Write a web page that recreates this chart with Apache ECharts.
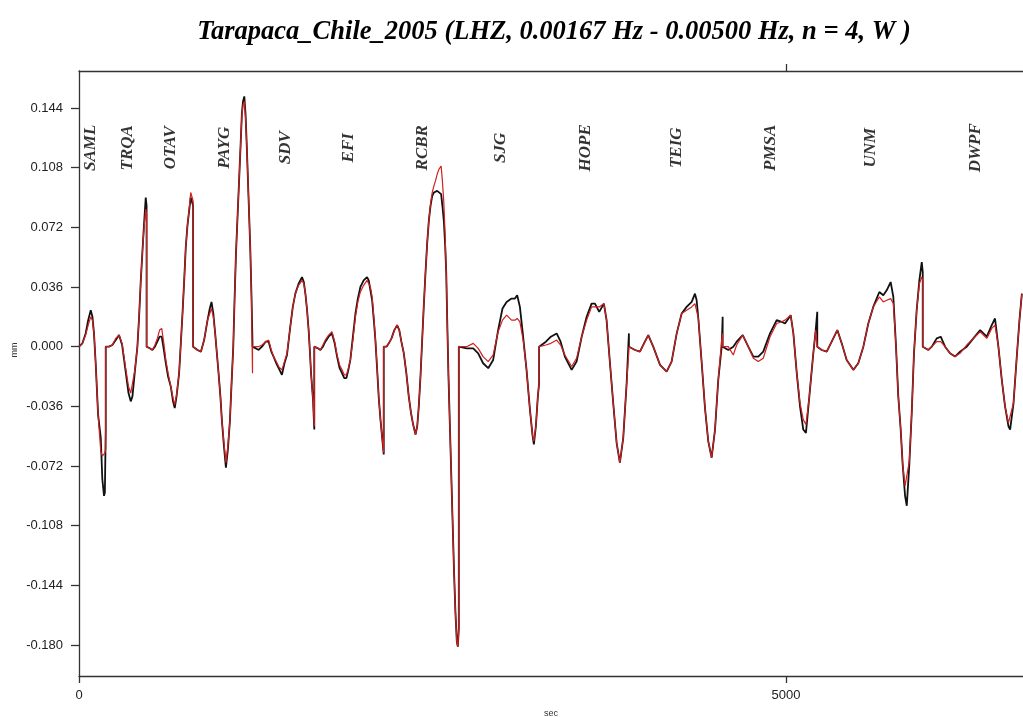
<!DOCTYPE html>
<html><head><meta charset="utf-8">
<script src="https://cdn.jsdelivr.net/npm/echarts@6/dist/echarts.min.js"></script>
<style>html,body{margin:0;padding:0;background:#fff}#c{width:1023px;height:717px}</style>
</head><body><div id="c"></div>
<script>
// Station names and label positions (seconds along concatenated trace, mm level)
const stationNames = ['SAML','TRQA','OTAV','PAYG','SDV','EFI','RCBR','SJG','HOPE','TEIG','PMSA','UNM','DWPF'];
const stationLabelTime = [80, 345, 650, 1032, 1460, 1908, 2432, 2983, 3585, 4229, 4894, 5601, 6344];
const stationLabelLevel = 0.12;
const xTicks = [0, 5000];
const yTicks = [-0.180, -0.144, -0.108, -0.072, -0.036, 0, 0.036, 0.072, 0.108, 0.144];

// Each station: [time (s), observed (black, mm), synthetic (red, mm)]
const SAML = [[0,0,0],[24,0.002,0.002],[47,0.008,0.007],[65,0.016,0.013],[83,0.022,0.018],[95,0.018,0.016],[106,0.008,0.008],[118,-0.010,-0.010],[135,-0.041,-0.041],[154,-0.055,-0.063],[165,-0.080,-0.066],[177,-0.090,-0.065],[183,-0.088,-0.064],[189,-0.050,-0.062]];
const TRQA = [[189,0,0],[212,0,0],[236,0.001,0.001],[260,0.004,0.005],[283,0.007,0.007],[305,0.001,0.002],[330,-0.015,-0.013],[350,-0.028,-0.024],[366,-0.033,-0.028],[378,-0.030,-0.028],[395,-0.015,-0.014],[413,0,0],[425,0.018,0.018],[437,0.040,0.040],[449,0.058,0.058],[460,0.074,0.072],[472,0.090,0.083],[478,0.085,0.080]];
const OTAV = [[478,0,0],[500,-0.001,-0.001],[519,-0.002,-0.002],[537,0,0.001],[554,0.003,0.005],[570,0.006,0.010],[585,0.006,0.011],[600,-0.002,0.002],[614,-0.010,-0.008],[630,-0.018,-0.016],[649,-0.024,-0.024],[665,-0.033,-0.031],[677,-0.037,-0.035],[690,-0.030,-0.029],[708,-0.016,-0.016],[720,0.002,0.002],[732,0.020,0.020],[744,0.040,0.040],[755,0.060,0.060],[767,0.073,0.073],[779,0.082,0.083],[790,0.090,0.093],[797,0.089,0.092],[807,0.085,0.088]];
const PAYG = [[807,0,0],[838,-0.002,-0.002],[862,-0.003,-0.003],[885,0.004,0.004],[909,0.016,0.016],[925,0.023,0.020],[937,0.027,0.023],[950,0.020,0.018],[963,0.008,0.008],[975,-0.004,-0.004],[987,-0.016,-0.016],[1000,-0.030,-0.030],[1011,-0.045,-0.045],[1025,-0.060,-0.058],[1039,-0.073,-0.070],[1053,-0.062,-0.060],[1067,-0.045,-0.045],[1079,-0.022,-0.022],[1091,0,0],[1100,0.028,0.028],[1110,0.056,0.056],[1122,0.080,0.080],[1133,0.102,0.102],[1143,0.122,0.122],[1152,0.141,0.140],[1160,0.148,0.146],[1169,0.151,0.148],[1178,0.140,0.138],[1187,0.120,0.120],[1199,0.090,0.090],[1211,0.060,0.060],[1220,0.030,0.030],[1227,0.002,-0.016]];
const SDV = [[1227,0,0],[1250,-0.001,0],[1270,-0.002,0],[1294,0,0.001],[1320,0.003,0.003],[1341,0.003,0.004],[1360,-0.003,-0.002],[1376,-0.006,-0.006],[1395,-0.010,-0.009],[1412,-0.013,-0.012],[1435,-0.017,-0.014],[1453,-0.010,-0.009],[1471,-0.005,-0.004],[1494,0.012,0.012],[1512,0.024,0.024],[1530,0.032,0.032],[1553,0.038,0.037],[1577,0.042,0.040],[1590,0.039,0.038],[1601,0.032,0.032],[1613,0.022,0.022],[1624,0.010,0.010],[1633,-0.003,-0.003],[1641,-0.016,-0.016],[1655,-0.032,-0.032],[1664,-0.050,-0.048]];
const EFI = [[1664,0,0],[1690,-0.001,-0.001],[1707,-0.002,-0.002],[1725,0,0.001],[1742,0.003,0.004],[1765,0.006,0.007],[1789,0.008,0.009],[1808,0.002,0.003],[1825,-0.006,-0.005],[1843,-0.013,-0.011],[1860,-0.016,-0.014],[1876,-0.019,-0.017],[1891,-0.019,-0.017],[1905,-0.014,-0.013],[1919,-0.008,-0.008],[1937,0.006,0.004],[1955,0.020,0.018],[1972,0.029,0.027],[1990,0.036,0.033],[2013,0.040,0.037],[2037,0.042,0.040],[2049,0.040,0.040],[2061,0.034,0.036],[2073,0.028,0.030],[2085,0.016,0.018],[2096,0.004,0.005],[2108,-0.013,-0.012],[2120,-0.031,-0.031],[2132,-0.044,-0.044],[2144,-0.055,-0.055],[2155,-0.065,-0.064]];
const RCBR = [[2155,0,0],[2175,0,0],[2191,0.002,0.002],[2210,0.005,0.005],[2230,0.010,0.010],[2250,0.013,0.013],[2265,0.010,0.010],[2280,0.003,0.003],[2297,-0.004,-0.004],[2315,-0.016,-0.016],[2332,-0.030,-0.030],[2348,-0.040,-0.040],[2363,-0.047,-0.047],[2380,-0.053,-0.053],[2392,-0.048,-0.048],[2403,-0.036,-0.036],[2415,-0.018,-0.018],[2427,0.004,0.004],[2438,0.024,0.024],[2450,0.044,0.044],[2462,0.062,0.062],[2474,0.076,0.076],[2486,0.085,0.086],[2498,0.091,0.093],[2510,0.093,0.097],[2521,0.094,0.100],[2533,0.094,0.104],[2545,0.094,0.107],[2561,0.092,0.109],[2570,0.085,0.100],[2580,0.076,0.087],[2589,0.062,0.068],[2597,0.045,0.045],[2605,0.012,0.012],[2613,-0.018,-0.018],[2622,-0.045,-0.045],[2632,-0.075,-0.075],[2642,-0.105,-0.105],[2652,-0.135,-0.135],[2662,-0.160,-0.160],[2672,-0.178,-0.178],[2679,-0.181,-0.181],[2686,-0.170,-0.170]];
const SJG = [[2686,0,0],[2741,-0.001,0],[2788,-0.001,0.002],[2823,-0.004,-0.001],[2858,-0.010,-0.006],[2894,-0.013,-0.009],[2929,-0.008,-0.005],[2964,0.010,0.009],[2995,0.023,0.016],[3024,0.027,0.019],[3059,0.029,0.016],[3083,0.029,0.016],[3099,0.031,0.017],[3118,0.024,0.015],[3141,0.006,0.004],[3165,-0.014,-0.014],[3189,-0.038,-0.038],[3208,-0.054,-0.054],[3217,-0.059,-0.057],[3231,-0.048,-0.048],[3245,-0.030,-0.030],[3254,-0.022,-0.022]];
const HOPE = [[3254,0,0],[3302,0.003,0.001],[3337,0.006,0.002],[3378,0.008,0.004],[3406,0.003,0.001],[3436,-0.006,-0.005],[3484,-0.014,-0.012],[3519,-0.009,-0.007],[3555,0.006,0.006],[3590,0.018,0.016],[3625,0.026,0.024],[3649,0.026,0.024],[3679,0.021,0.024],[3712,0.026,0.026],[3731,0.016,0.016],[3755,-0.010,-0.010],[3778,-0.034,-0.034],[3802,-0.058,-0.058],[3825,-0.070,-0.070],[3849,-0.055,-0.055],[3873,-0.022,-0.022],[3889,0.008,-0.002]];
const TEIG = [[3889,0,0],[3910,-0.001,-0.001],[3932,-0.002,-0.002],[3967,-0.003,-0.003],[4002,0.003,0.003],[4026,0.007,0.007],[4061,0,0],[4109,-0.011,-0.011],[4156,-0.015,-0.015],[4191,-0.009,-0.009],[4227,0.008,0.008],[4262,0.020,0.020],[4297,0.024,0.022],[4333,0.027,0.024],[4356,0.032,0.026],[4368,0.028,0.025],[4380,0.017,0.017],[4404,-0.010,-0.010],[4427,-0.037,-0.037],[4450,-0.057,-0.057],[4474,-0.067,-0.067],[4498,-0.050,-0.050],[4521,-0.020,-0.020],[4545,0,0.004],[4552,0.018,0.008]];
const PMSA = [[4552,0,0],[4592,-0.002,0],[4627,0,-0.005],[4651,0.003,0.001],[4694,0.007,0.007],[4733,0,0],[4769,-0.006,-0.007],[4804,-0.006,-0.009],[4839,-0.003,-0.007],[4887,0.008,0.006],[4934,0.016,0.014],[4969,0.015,0.015],[4993,0.014,0.016],[5033,0.019,0.019],[5052,0.008,0.008],[5076,-0.016,-0.016],[5099,-0.036,-0.034],[5122,-0.050,-0.044],[5141,-0.052,-0.047],[5165,-0.030,-0.030],[5193,-0.004,-0.004],[5210,0.010,0.010],[5221,0.021,0.010]];
const UNM = [[5221,0,0],[5253,-0.002,-0.002],[5288,-0.003,-0.003],[5323,0.003,0.003],[5363,0.010,0.010],[5394,0.002,0.002],[5429,-0.008,-0.008],[5476,-0.014,-0.014],[5511,-0.010,-0.010],[5547,0,0],[5582,0.014,0.014],[5617,0.024,0.024],[5660,0.033,0.030],[5688,0.031,0.027],[5712,0.034,0.028],[5740,0.039,0.029],[5759,0.030,0.026],[5778,0,0],[5794,-0.030,-0.030],[5811,-0.050,-0.050],[5825,-0.071,-0.071],[5842,-0.090,-0.084],[5854,-0.096,-0.084],[5872,-0.071,-0.069],[5889,-0.040,-0.040],[5905,-0.004,-0.004],[5924,0.022,0.022],[5943,0.040,0.038],[5960,0.051,0.042],[5967,0.045,0.040]];
const DWPF = [[5967,0,0],[6007,-0.002,-0.002],[6031,0,0],[6066,0.005,0.003],[6094,0.006,0.003],[6125,0,0],[6160,-0.004,-0.004],[6195,-0.006,-0.006],[6231,-0.003,-0.004],[6278,0,0.001],[6325,0.005,0.005],[6373,0.010,0.009],[6420,0.006,0.005],[6455,0.013,0.011],[6478,0.017,0.013],[6502,0,0],[6526,-0.020,-0.020],[6549,-0.036,-0.036],[6573,-0.048,-0.046],[6585,-0.050,-0.047],[6609,-0.034,-0.034],[6632,-0.006,-0.006],[6651,0.016,0.016],[6668,0.032,0.032]];

const segments = [SAML, TRQA, OTAV, PAYG, SDV, EFI, RCBR, SJG, HOPE, TEIG, PMSA, UNM, DWPF];
const obsLine = [], synLine = [];
segments.forEach(seg => seg.forEach(p => { obsLine.push([p[0], p[1]]); synLine.push([p[0], p[2]]); }));

const axisColor = '#333';
const chart = echarts.init(document.getElementById('c'), null, {renderer: 'canvas'});
chart.setOption({
  animation: false,
  backgroundColor: '#fff',
  title: {
    text: 'Tarapaca_Chile_2005 (LHZ, 0.00167 Hz - 0.00500 Hz, n = 4, W )',
    left: 549, top: 14, textAlign: 'center',
    textStyle: {fontFamily: 'Liberation Serif', fontStyle: 'italic', fontWeight: 'bold', fontSize: 26.5, color: '#000'}
  },
  grid: {left: 79, right: 0, top: 71, bottom: 41, outerBoundsMode: 'none', containLabel: false},
  xAxis: [{
    type: 'value', min: 0, max: 6676, position: 'bottom',
    axisLine: {show: true, onZero: false, lineStyle: {color: axisColor, width: 1.3}},
    axisTick: {show: true, customValues: xTicks, length: 7, lineStyle: {color: axisColor, width: 1.3}},
    axisLabel: {customValues: xTicks, formatter: v => String(v), margin: 13, fontSize: 13, color: '#222', fontFamily: 'Liberation Sans'},
    splitLine: {show: false},
    name: 'sec', nameLocation: 'middle', nameGap: 33,
    nameTextStyle: {fontSize: 9, color: '#333', fontFamily: 'Liberation Sans'}
  }, {
    type: 'value', min: 0, max: 6676, position: 'top',
    axisLine: {show: true, onZero: false, lineStyle: {color: axisColor, width: 1.3}},
    axisTick: {show: true, customValues: [5000], length: 7, lineStyle: {color: axisColor, width: 1.3}},
    axisLabel: {show: false},
    splitLine: {show: false}
  }],
  yAxis: {
    type: 'value', min: -0.1987, max: 0.16632,
    axisLine: {show: true, onZero: false, lineStyle: {color: axisColor, width: 1.3}},
    axisTick: {show: true, customValues: yTicks, length: 8, lineStyle: {color: axisColor, width: 1.3}},
    axisLabel: {customValues: yTicks, formatter: v => v.toFixed(3), margin: 16, fontSize: 13, color: '#222', fontFamily: 'Liberation Sans'},
    splitLine: {show: false}
  },
  graphic: [{
    type: 'text', x: 15, y: 350, rotation: Math.PI / 2,
    style: {text: 'mm', fontSize: 9, fill: '#333', align: 'center', verticalAlign: 'middle', fontFamily: 'Liberation Sans'}
  }],
  series: [{
    type: 'line', name: 'observed', data: obsLine, showSymbol: false, symbol: 'none',
    lineStyle: {color: '#111', width: 1.8}, clip: true, z: 2
  }, {
    type: 'line', name: 'synthetic', data: synLine, showSymbol: false, symbol: 'none',
    lineStyle: {color: '#d21f1f', width: 1.2}, clip: true, z: 3
  }, {
    type: 'scatter', symbolSize: 1, itemStyle: {color: 'rgba(0,0,0,0)'}, z: 4,
    data: stationLabelTime.map((t, i) => ({name: stationNames[i], value: [t, stationLabelLevel]})),
    label: {show: true, formatter: '{b}', position: 'inside', rotate: 90,
      fontFamily: 'Liberation Serif', fontStyle: 'italic', fontWeight: 'bold', fontSize: 17, color: '#000'}
  }]
});
</script></body></html>
